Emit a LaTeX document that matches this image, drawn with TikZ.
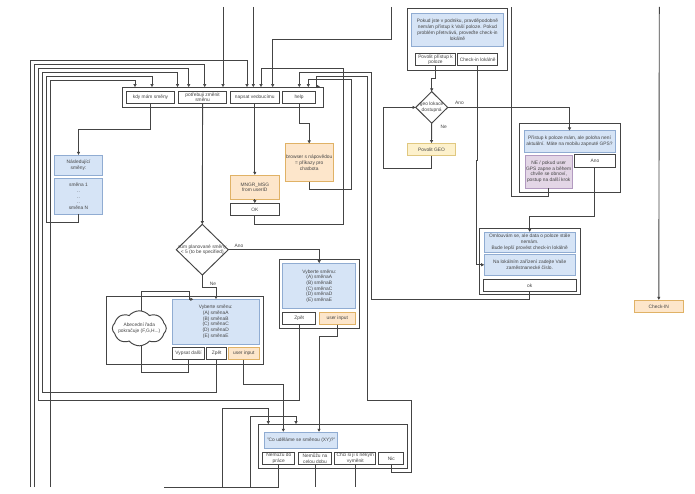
\documentclass[tikz,border=0pt]{standalone}
\usepackage{fontspec}
\setmainfont{Liberation Sans}
\usetikzlibrary{arrows.meta,shapes.geometric,shapes.symbols}

\definecolor{bluefill}{HTML}{D6E4F6}
\definecolor{bluedraw}{HTML}{90ACD2}
\definecolor{orangefill}{HTML}{FDE6CB}
\definecolor{orangedraw}{HTML}{E0B266}
\definecolor{yellowfill}{HTML}{FDF1CC}
\definecolor{yellowdraw}{HTML}{E0C880}
\definecolor{purplefill}{HTML}{E3D6E6}
\definecolor{purpledraw}{HTML}{B29AC0}
\definecolor{ink}{HTML}{444444}

\tikzset{
  every node/.style={font=\fontsize{4.85}{5.7}\selectfont,align=center,inner sep=0pt,outer sep=0pt,text=ink},
  group/.style={draw=ink,line width=.95pt,fill=white},
  btn/.style={draw=ink,line width=.95pt,fill=white},
  bluebox/.style={draw=bluedraw,line width=.7pt,fill=bluefill},
  orangebox/.style={draw=orangedraw,line width=.7pt,fill=orangefill},
  yellowbox/.style={draw=yellowdraw,line width=.7pt,fill=yellowfill},
  purplebox/.style={draw=purpledraw,line width=.7pt,fill=purplefill},
  dia/.style={diamond,draw=ink,line width=.95pt,fill=white},
  conn/.style={draw=ink,line width=.9pt},
  arr/.style={conn,-{Latex[length=3.2pt,width=3.6pt]}},
}

\begin{document}
\begin{tikzpicture}[x=1pt,y=-1pt]
  \useasboundingbox (0,0) rectangle (695,494);

  % free ends of the lines at the picture's edges
  \coordinate (topA) at (223,7);
  \coordinate (topB) at (253.3,7);
  \coordinate (topC) at (391.7,7);
  \coordinate (topD) at (511.3,7);
  \coordinate (topE) at (659.3,7);
  \coordinate (botA) at (30.5,487);
  \coordinate (botB) at (34.5,487);
  \coordinate (botC) at (50.5,487);
  \coordinate (botD) at (222.7,487);
  \coordinate (botE) at (250.7,487);
  \coordinate (botF) at (163.7,487);

  % menu
  \node[group,minimum width=201,minimum height=19.7] (menu) at (222.8,97.2) {};
  \node[btn,minimum width=47.6,minimum height=12] (kdy) at (150.5,97.3) {kdy mám směny};
  \node[btn,minimum width=48.7,minimum height=12] (zmena) at (202.6,97.3) {potřebuji změnit\\směnu};
  \node[btn,minimum width=49,minimum height=12] (napsat) at (254.8,97.3) {napsat vedoucímu};
  \node[btn,minimum width=32.3,minimum height=12] (help) at (299.1,97.3) {help};

  % entries of the menu box
  \coordinate (inA) at (135,87.3);
  \coordinate (inB) at (152,87.3);
  \coordinate (inC) at (177.5,87.3);
  \coordinate (inD) at (188.7,87.3);
  \coordinate (inE) at (204.7,87.3);
  \coordinate (inF) at (223,87.3);
  \coordinate (inG) at (247,87.3);
  \coordinate (inH) at (253.3,87.3);
  \coordinate (inI) at (261,87.3);
  \coordinate (inJ) at (272.7,87.3);
  \coordinate (inK) at (299.3,87.3);
  \coordinate (inL) at (308.3,87.3);
  \coordinate (inM) at (320,86.5);

  % next shifts
  \node[bluebox,minimum width=48.4,minimum height=20.3] (nasl) at (78.5,165.2) {Následující\\směny:};
  \node[bluebox,minimum width=48.4,minimum height=36] (seznam) at (78.5,196.3) {směna 1\\..\\..\\..\\směna N};

  % manager
  \node[orangebox,minimum width=49,minimum height=24.3] (mngr) at (254.8,187.2) {MNGR\_MSG\\from userID};
  \node[btn,minimum width=49,minimum height=12.4] (okm) at (254.8,209.5) {OK};

  % help page
  \node[orangebox,minimum width=48.3,minimum height=38] (browser) at (309.2,162.7) {browser s nápovědou\\= příkazy pro\\chatbota};

  % number of shifts
  \node[dia,minimum width=52,minimum height=50.7] (pocet) at (202.3,249.7) {};
  \node (pocettxt) at (202.3,249.7) {sum planované směny\\< 5 (to be specified)};
  \node (ano1) at (239,246) {Ano};
  \node (ne1) at (213,283.7) {Ne};

  % picking from few shifts
  \node[group,minimum width=80.3,minimum height=68.6] (malo) at (319.2,294) {};
  \node[bluebox,minimum width=73,minimum height=45.4] (malotxt) at (319.2,286) {Vyberte směnu:\\(A) směnaA\\(B) směnaB\\(C) směnaC\\(D) směnaD\\(E) směnaE};
  \node[btn,minimum width=33,minimum height=12.4] (malozpet) at (299.2,318.5) {Zpět};
  \node[orangebox,minimum width=36.7,minimum height=12.4] (maloinput) at (337.3,318.5) {user input};

  % picking from many shifts
  \node[group,minimum width=156.7,minimum height=68.3] (hodne) at (184.7,330.2) {};
  \node[bluebox,minimum width=86.7,minimum height=45] (hodnetxt) at (215.7,321.8) {Vyberte směnu:\\(A) směnaA\\(B) směnaB\\(C) směnaC\\(D) směnaD\\(E) směnaE};
  \node[btn,minimum width=32.4,minimum height=12.4] (vypsat) at (188.5,353.5) {Vypsat další};
  \node[btn,minimum width=20,minimum height=12.4] (hodnezpet) at (216.7,353.5) {Zpět};
  \node[orangebox,minimum width=30.3,minimum height=12.4] (hodneinput) at (243.8,353.5) {user input};

  % what to do with the shift
  \node[group,minimum width=149,minimum height=44.4] (co) at (333.2,446.5) {};
  \node[bluebox,minimum width=73,minimum height=16.7] (cotxt) at (301.2,440.3) {"Co uděláme se směnou (XY)?"};
  \node[btn,minimum width=32.3,minimum height=12] (nemuzu) at (278.8,458.3) {Nemůžu do\\práce};
  \node[btn,minimum width=32.6,minimum height=12] (celou) at (315,458.3) {Nemůžu na\\celou dobu};
  \node[btn,minimum width=40.7,minimum height=12] (vymena) at (355.3,458.3) {Chci si ji s někým\\vyměnit};
  \node[btn,minimum width=24.7,minimum height=12] (nic) at (391.3,458.3) {Nic};

  % location
  \node[group,minimum width=100.4,minimum height=62] (loc) at (457.5,39) {};
  \node[bluebox,minimum width=92.4,minimum height=32.3] (loctxt) at (457.5,29.8) {Pokud jste v podniku, pravděpodobně\\nemám přístup k Vaší poloze. Pokud\\problém přetrvává, proveďte check-in\\lokálně};
  \node[btn,minimum width=40.4,minimum height=12.3] (povolit) at (435.5,59.8) {Povolit přístup k\\poloze};
  \node[btn,minimum width=40,minimum height=12.3] (lokalne) at (477.7,59.8) {Check-in lokálně};

  \node[dia,minimum width=32,minimum height=31.6] (geo) at (431.7,107.4) {};
  \node (geotxt) at (431.7,107.4) {geo lokace\\dostupná};
  \node (ano2) at (459.5,103) {Ano};
  \node (ne2) at (443.7,127.3) {Ne};
  \node[yellowbox,minimum width=48.4,minimum height=12.4] (povgeo) at (431.5,149.5) {Povolit GEO};

  % stale position
  \node[group,minimum width=100.7,minimum height=69] (stale) at (569.7,158.2) {};
  \node[bluebox,minimum width=91,minimum height=21.6] (staletxt) at (569.5,141.5) {Přístup k poloze mám, ale poloha není\\aktuální. Máte na mobilu zapnuté GPS?};
  \node[purplebox,minimum width=46.7,minimum height=33.3] (gpsne) at (548.7,171.7) {NE / pokud user\\GPS zapne a během\\chvíle se obnoví,\\postup na další krok};
  \node[btn,minimum width=40.3,minimum height=12.7] (gpsano) at (594.9,161.3) {Ano};

  % no position
  \node[group,minimum width=100.7,minimum height=66.3] (nemam) at (529.7,261.2) {};
  \node[bluebox,minimum width=90.7,minimum height=20.7] (nemamtxt) at (529.7,242.4) {Omlouvám se, ale data o poloze stále\\nemám.\\Bude lepší provést check-in lokálně};
  \node[bluebox,minimum width=90.7,minimum height=21.7] (cislo) at (529.7,264.8) {Na lokálním zařízení zadejte Vaše\\zaměstnanecké číslo.};
  \node[btn,minimum width=92.7,minimum height=12.7] (oknem) at (529.7,285.4) {ok};

  \node[orangebox,minimum width=49,minimum height=12.7] (checkin) at (658.8,306.4) {Check-IN};

  % lines into the menu
  \draw[arr] (botA) -- (30.5,60) -| (inG);
  \draw[arr] (botB) -- (34.5,64) -| (inE);
  \draw[arr] (hodnezpet.south) |- (42.5,392) -- (42.5,72) -| (inC);
  \draw[arr] (malozpet.south) |- (38.5,400.3) -- (38.5,68) -| (inD);
  \draw[arr] (seznam.south) |- (46.5,222) -- (46.5,76) -| (inB);
  \draw[arr] (botC) -- (50.5,80) -| (inA);
  \draw[arr] (topA) -- (inF);
  \draw[arr] (topB) -- (inH);
  \draw[arr] (topC) |- (272.7,39.3) -- (inJ);
  \draw[arr] (okm.south) |- (343,224.3) -- (343,68) -| (inI);
  \draw[arr] (oknem.south) |- (371.7,299.3) -- (371.7,72) -| (inK);
  \draw[arr] (browser.south) |- (351,189.5) -- (351,79) -| (inL);
  \draw[arr] (nic.south) |- (391.3,472.7) -| (411.3,400.3) -| (367,76) -| (316.7,86.5) -- (inM);

  % lines out of the menu
  \draw[arr] (kdy.south) |- (78.5,129.3) -- (nasl.north);
  \draw[arr] (zmena.south) -- (pocet.north);
  \draw[arr] (napsat.south) -- (mngr.north);
  \draw[arr] (mngr.south) -- (okm.north);
  \draw[arr] (help.south) |- (309.2,123.3) -- (browser.north);

  % lines of the shift choice
  \draw[arr] (pocet.east) -| (malotxt.north);
  \draw[arr] (pocet.south) |- (216,287.3) -- (hodnetxt.north -| 216,0);
  \coordinate (nahoduL) at (193.5,299.3);
  \draw[arr] (vypsat.south) |- (141.3,372.3) -- (141.3,291.7) -| (189.7,299.3) -- (nahoduL);
  \node[cloud,cloud puffs=8,cloud puff arc=100,aspect=1.6,draw=ink,line width=.95pt,fill=white,minimum width=54,minimum height=35] (mrak) at (139.3,328.3) {};
  \node (mraktxt) at (139.3,328.3) {Abecední řada\\pokračuje (F,G,H...)};
  \draw[arr] (hodneinput.south) |- (283.3,384.3) -- (cotxt.north -| 283.3,0);
  \draw[arr] (maloinput.south) |- (319,336) -- (cotxt.north -| 319,0);
  \coordinate (inCoA) at (268.3,424.3);
  \coordinate (inCoB) at (296,424.3);
  \draw[arr] (botD) |- (268.3,408.3) -- (inCoA);
  \draw[arr] (botE) |- (296,416.7) -- (inCoB);
  \draw[conn] (nemuzu.south) |- (botF);
  \draw[conn] (celou.south) -- (celou.south |- botA);
  \draw[conn] (vymena.south) -- (vymena.south |- botA);

  % lines of the location
  \draw[arr] (povolit.south) |- (431.7,78.7) -- (geo.north);
  \draw[arr] (geo.south) -- (povgeo.north);
  \draw[arr] (povgeo.south) |- (383.3,168.3) |- (geo.west);
  \draw[arr] (geo.east) -| (staletxt.north);
  \draw[arr] (lokalne.south) |- (476.7,160) -- (476.7,264.8) -- (cislo.west);
  \draw[conn] (gpsne.south) |- (511.3,196) -- (topD);
  \draw[arr] (gpsano.south) |- (529.7,216.3) -- (nemamtxt.north);
  \draw[arr] (topE) -- (checkin.north);
\end{tikzpicture}
\end{document}
